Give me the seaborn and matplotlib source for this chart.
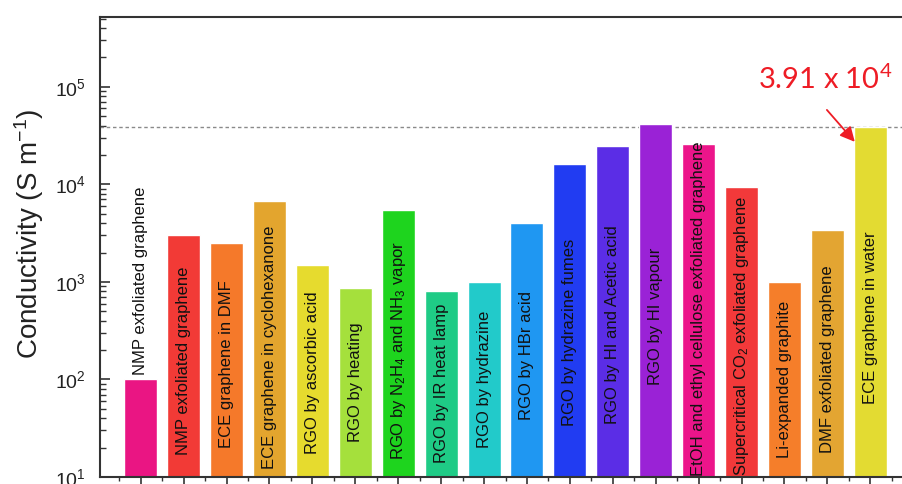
import numpy as np
import pandas as pd
import matplotlib
matplotlib.use("Agg")
import matplotlib.pyplot as plt
import seaborn as sns
from matplotlib.ticker import LogLocator, NullFormatter

# ---------------- data ----------------
bar_labels = [
    "NMP exfoliated graphene",
    "NMP exfoliated graphene",
    "ECE graphene in DMF",
    "ECE graphene in cyclohexanone",
    "RGO by ascorbic acid",
    "RGO by heating",
    "RGO by N$_\\mathregular{2}$H$_\\mathregular{4}$ and NH$_\\mathregular{3}$ vapor",
    "RGO by IR heat lamp",
    "RGO by hydrazine",
    "RGO by HBr acid",
    "RGO by hydrazine fumes",
    "RGO by HI and Acetic acid",
    "RGO by HI vapour",
    "EtOH and ethyl cellulose exfoliated graphene",
    "Supercritical CO$_\\mathregular{2}$ exfoliated graphene",
    "Li-expanded graphite",
    "DMF exfoliated graphene",
    "ECE graphene in water",
]
conductivity = [100, 3000, 2500, 6700, 1500, 860, 5500, 800, 1000, 4000,
                16000, 25000, 42000, 26000, 9300, 1000, 3400, 39100]
bar_colors = ["#EA1583", "#F23A36", "#F5792A", "#E3A52E", "#E6DB2E", "#A5E03C",
              "#1ED41E", "#1FCB86", "#22CACA", "#1F97F2", "#213CF2", "#5B2DE6",
              "#9A22D6", "#EC158A", "#F2393A", "#F57E2A", "#E3A532", "#E3DB32"]
reference_value = 3.91e4
annotation_text = "3.91 x 10$^\\mathregular{4}$"
y_label = "Conductivity (S m$^\\mathregular{-1}$)"

# ---------------- style ----------------
sns.set_theme(style="ticks")
plt.rcParams["font.family"] = ["Liberation Sans", "DejaVu Sans"]
plt.rcParams["mathtext.fontset"] = "custom"
plt.rcParams["mathtext.rm"] = "Liberation Sans"
plt.rcParams["mathtext.it"] = "Liberation Sans:italic"
plt.rcParams["mathtext.bf"] = "Liberation Sans:bold"

W, H = 902, 484
fig = plt.figure(figsize=(W / 100, H / 100), dpi=100)
ax = fig.add_axes([100 / W, 7 / H, 811 / W, 460 / H])

keys = [f"b{i:02d}" for i in range(len(conductivity))]
df = pd.DataFrame({"key": keys, "value": conductivity})
sns.barplot(data=df, x="key", y="value", hue="key", order=keys, hue_order=keys,
            palette=dict(zip(keys, bar_colors)), width=0.77, saturation=1,
            legend=False, ax=ax)
ax.set_yscale("log")
for p in ax.patches:
    p.set_zorder(2)

ax.set_ylim(10, 5.2e5)
ax.set_xlim(-0.95, 17.95)

ax.axhline(reference_value, color="#8a8a8a", lw=1.0, ls=(0, (2.5, 2)), zorder=1)

# ticks
ax.yaxis.set_major_locator(LogLocator(base=10, numticks=12))
ax.yaxis.set_minor_locator(LogLocator(base=10, subs=np.arange(2, 10), numticks=100))
ax.yaxis.set_minor_formatter(NullFormatter())
ax.tick_params(axis="y", which="major", direction="in", length=7, width=1.2,
               labelsize=14, pad=10, color="#333333", labelcolor="#222222")
ax.tick_params(axis="y", which="minor", direction="in", length=4, width=1.0,
               color="#333333")
ax.set_xticks(range(len(keys)))
ax.set_xticks(np.arange(-0.5, len(keys), 1.0), minor=True)
ax.set_xticklabels([])
ax.tick_params(axis="x", which="major", direction="out", length=5, width=1.2,
               color="#333333")
ax.tick_params(axis="x", which="minor", direction="out", length=3, width=1.0,
               color="#333333")
ax.set_xlabel("")
for s in ax.spines.values():
    s.set_linewidth(1.5)
    s.set_color("#333333")

ax.set_ylabel(y_label, fontsize=20, color="#222222")
ax.yaxis.set_label_coords((46 - 100) / 811, (477 - 234) / 460)

# annotation
red = "#EE1C25"
ax.annotate("", xy=(16.64, 27300), xytext=(15.99, 58000),
            arrowprops=dict(arrowstyle="-|>", color=red, lw=1.3, mutation_scale=22,
                            shrinkA=0, shrinkB=0), zorder=4)
ax.text(15.95, 9.6e4, annotation_text, color=red, fontsize=21,
        family=["Lato", "DejaVu Sans"], ha="center", va="baseline")

# bar labels
texts = []
for i, (lab, v) in enumerate(zip(bar_labels, conductivity)):
    if i == 0:
        t = ax.text(i, v * 1.12, lab, rotation=90, ha="center", va="bottom",
                    fontsize=12, color="#111111", zorder=3)
    else:
        c = (1 + np.log10(v)) / 2
        cl = 2 + 0.8 * (c - 2)
        t = ax.text(i, 10 ** cl, lab, rotation=90, ha="center", va="center",
                    fontsize=12, color="#111111", zorder=3)
        texts.append((i, v, t))

fig.canvas.draw()
renderer = fig.canvas.get_renderer()
bottom_px = ax.transData.transform((0, 10))[1]
for i, v, t in texts:
    bb = t.get_window_extent(renderer)
    top_px = ax.transData.transform((0, v))[1]
    xd, yd = ax.transData.transform(t.get_position())
    shift = 0.0
    if bb.y0 < bottom_px + 1.5:
        shift = bottom_px + 1.5 - bb.y0
    elif bb.y1 > top_px - 2:
        shift = (top_px - 2) - bb.y1
    if shift:
        nx, ny = ax.transData.inverted().transform((xd, yd + shift))
        t.set_position((i, ny))

fig.savefig("out.png", dpi=100)
